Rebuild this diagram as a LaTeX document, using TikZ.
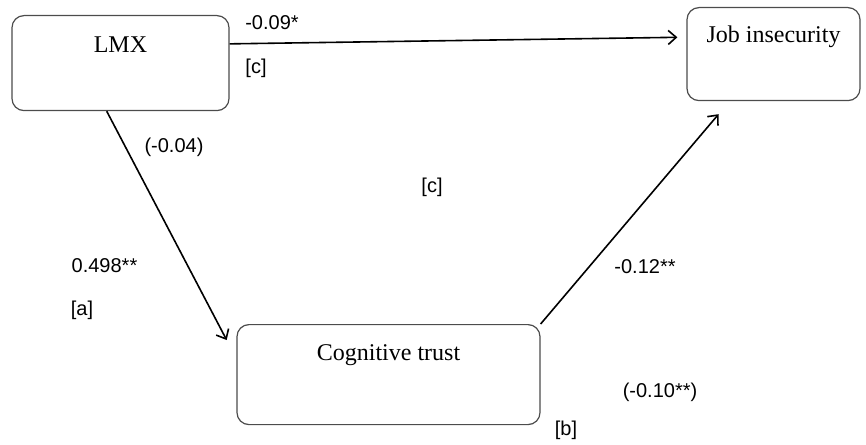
\documentclass[tikz,border=0pt]{standalone}
\usepackage{fontspec}
\setmainfont{Liberation Serif}
\newfontfamily\numfont{Liberation Sans}
\usetikzlibrary{arrows.meta}

\begin{document}
\begin{tikzpicture}[x=0.5pt, y=-0.5pt, line width=0.8pt,
    box/.style={draw=black!70, line width=0.6pt, rounded corners=6pt, anchor=north,
      inner sep=0pt, font=\fontsize{12}{14}\selectfont},
    coef/.style={font=\numfont\fontsize{10}{12}\selectfont}]
  \useasboundingbox (0,0) rectangle (866,444);
  \node[box, minimum width=108.5pt, text height=18.5pt, text depth=29pt] (lmx) at (120.5,15) {LMX};
  \node[box, minimum width=86.5pt, text height=17.5pt, text depth=29pt] (job) at (773.5,7) {Job insecurity};
  \node[box, minimum width=151.5pt, text height=18pt, text depth=32pt] (cog) at (388.5,324) {Cognitive trust};
  \draw[->, >={Straight Barb[length=4pt, width=7pt]}, shorten >=4.5pt] (lmx.10.7) -- (job.169.2);
  \draw[->, >={Straight Barb[length=4pt, width=7pt]}, shorten >=10.5pt] (lmx.254.1) -- (cog.174.7);
  \draw[->, >={Straight Barb[length=4pt, width=7pt]}, shorten >=8.5pt] (cog.north east) -- (job.-133.7);
  \node[coef] (c1) at (272,23) {-0.09*};
  \node[coef] (c1b) at (256,68) {[c]};
  \node[coef] (a1) at (174,147) {(-0.04)};
  \node[coef] (c2) at (432,187) {[c]};
  \node[coef] (a2) at (104.5,266) {0.498**};
  \node[coef] (a2b) at (82,310) {[a]};
  \node[coef] (b1) at (645,267) {-0.12**};
  \node[coef] (b2) at (660,392) {(-0.10**)};
  \node[coef] (b2b) at (566,430) {[b]};
\end{tikzpicture}
\end{document}
